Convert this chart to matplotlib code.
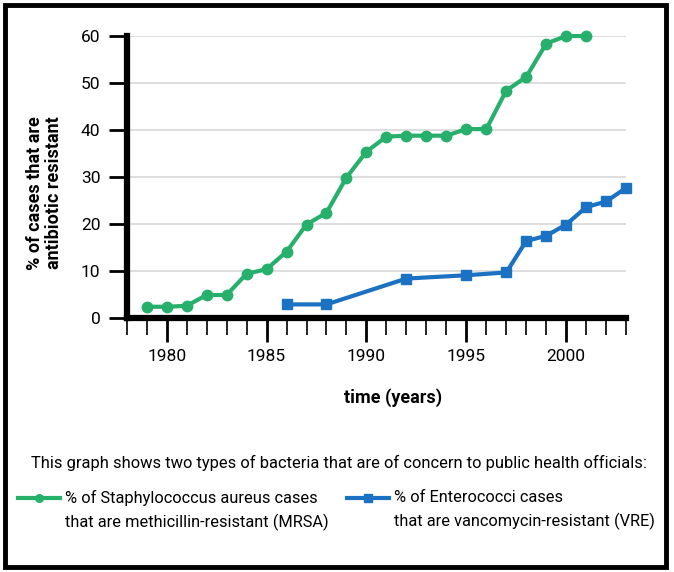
import matplotlib.pyplot as plt
from matplotlib.lines import Line2D
from matplotlib.patches import Rectangle
from matplotlib.ticker import MultipleLocator

plt.rcParams['font.family'] = ['Roboto', 'DejaVu Sans']

# data
mrsa_years = [1979, 1980, 1981, 1982, 1983, 1984, 1985, 1986, 1987, 1988, 1989,
              1990, 1991, 1992, 1993, 1994, 1995, 1996, 1997, 1998, 1999, 2000, 2001]
mrsa_pct = [2.4, 2.4, 2.6, 4.9, 4.9, 9.4, 10.4, 14.1, 19.9, 22.4, 29.9,
            35.4, 38.6, 38.8, 38.8, 38.8, 40.2, 40.2, 48.4, 51.3, 58.4, 60.0, 60.0]
vre_years = [1986, 1988, 1992, 1995, 1997, 1998, 1999, 2000, 2001, 2002, 2003]
vre_pct = [2.9, 2.9, 8.4, 9.1, 9.7, 16.4, 17.5, 19.9, 23.6, 24.8, 27.7]
y_ticks = [0, 10, 20, 30, 40, 50, 60]
x_labeled = [1980, 1985, 1990, 1995, 2000]

green = '#27b06c'
blue = '#1c72c2'

fig = plt.figure(figsize=(6.74, 5.72), dpi=100)
ax = fig.add_axes([0.188, 0.444, 0.741, 0.493])

ax.plot(mrsa_years, mrsa_pct, '-o', color=green, lw=3, ms=7.5, clip_on=False, zorder=3)
ax.plot(vre_years, vre_pct, '-s', color=blue, lw=3, ms=7.5, clip_on=False, zorder=3)

ax.set_xlim(1978, 2003)
ax.set_ylim(0, 60)
ax.set_yticks(y_ticks)
ax.set_xticks(x_labeled)
ax.xaxis.set_minor_locator(MultipleLocator(1))
ax.yaxis.grid(True, color='#d8d8d8', lw=1.2)
ax.set_axisbelow(True)

for s in ['top', 'right']:
    ax.spines[s].set_visible(False)
for s in ['left', 'bottom']:
    ax.spines[s].set_linewidth(4.5)
ax.spines['bottom'].set_capstyle('projecting')

ax.tick_params(axis='y', length=13, width=2, direction='out', pad=6, labelsize=12.5)
ax.tick_params(axis='x', which='major', length=17, width=2, direction='out', pad=5, labelsize=12.5)
ax.tick_params(axis='x', which='minor', length=12, width=1.2, direction='out')

# minor tick at the 1978 edge hidden, as in the original the ticks start at 1979
for t in ax.xaxis.get_minor_ticks():
    if abs(t.get_loc() - 1978) < 0.01:
        t.tick1line.set_visible(False)

fig.text(0.066, 0.663, '% of cases that are\nantibiotic resistant', rotation=90,
         ha='center', va='center', fontsize=13, fontweight='bold', linespacing=1.1)
fig.text(0.583, 0.305, 'time (years)', ha='center', va='center',
         fontsize=13, fontweight='bold')

fig.text(0.503, 0.190, 'This graph shows two types of bacteria that are of concern to public health officials:',
         ha='center', va='center', fontsize=11.9)

# legend rows
for x0, x1, col, mk, txt in [(0.027, 0.089, green, 'o', '% of Staphylococcus aureus cases\nthat are methicillin-resistant (MRSA)'),
                             (0.515, 0.577, blue, 's', '% of Enterococci cases\nthat are vancomycin-resistant (VRE)')]:
    fig.add_artist(Line2D([x0, x1], [0.129, 0.129], color=col, lw=3,
                          transform=fig.transFigure))
    fig.add_artist(Line2D([(x0 + x1) / 2], [0.129], marker=mk, color=col, ms=5.5,
                          transform=fig.transFigure))
    fig.text(x1 + 0.008, 0.108, txt, ha='left', va='center', fontsize=11.8, linespacing=1.55)

# outer frame
fig.add_artist(Rectangle((0.007, 0.008), 0.981, 0.984, transform=fig.transFigure,
                         fill=False, edgecolor='black', lw=3.5))

fig.savefig('out.png', dpi=100)
